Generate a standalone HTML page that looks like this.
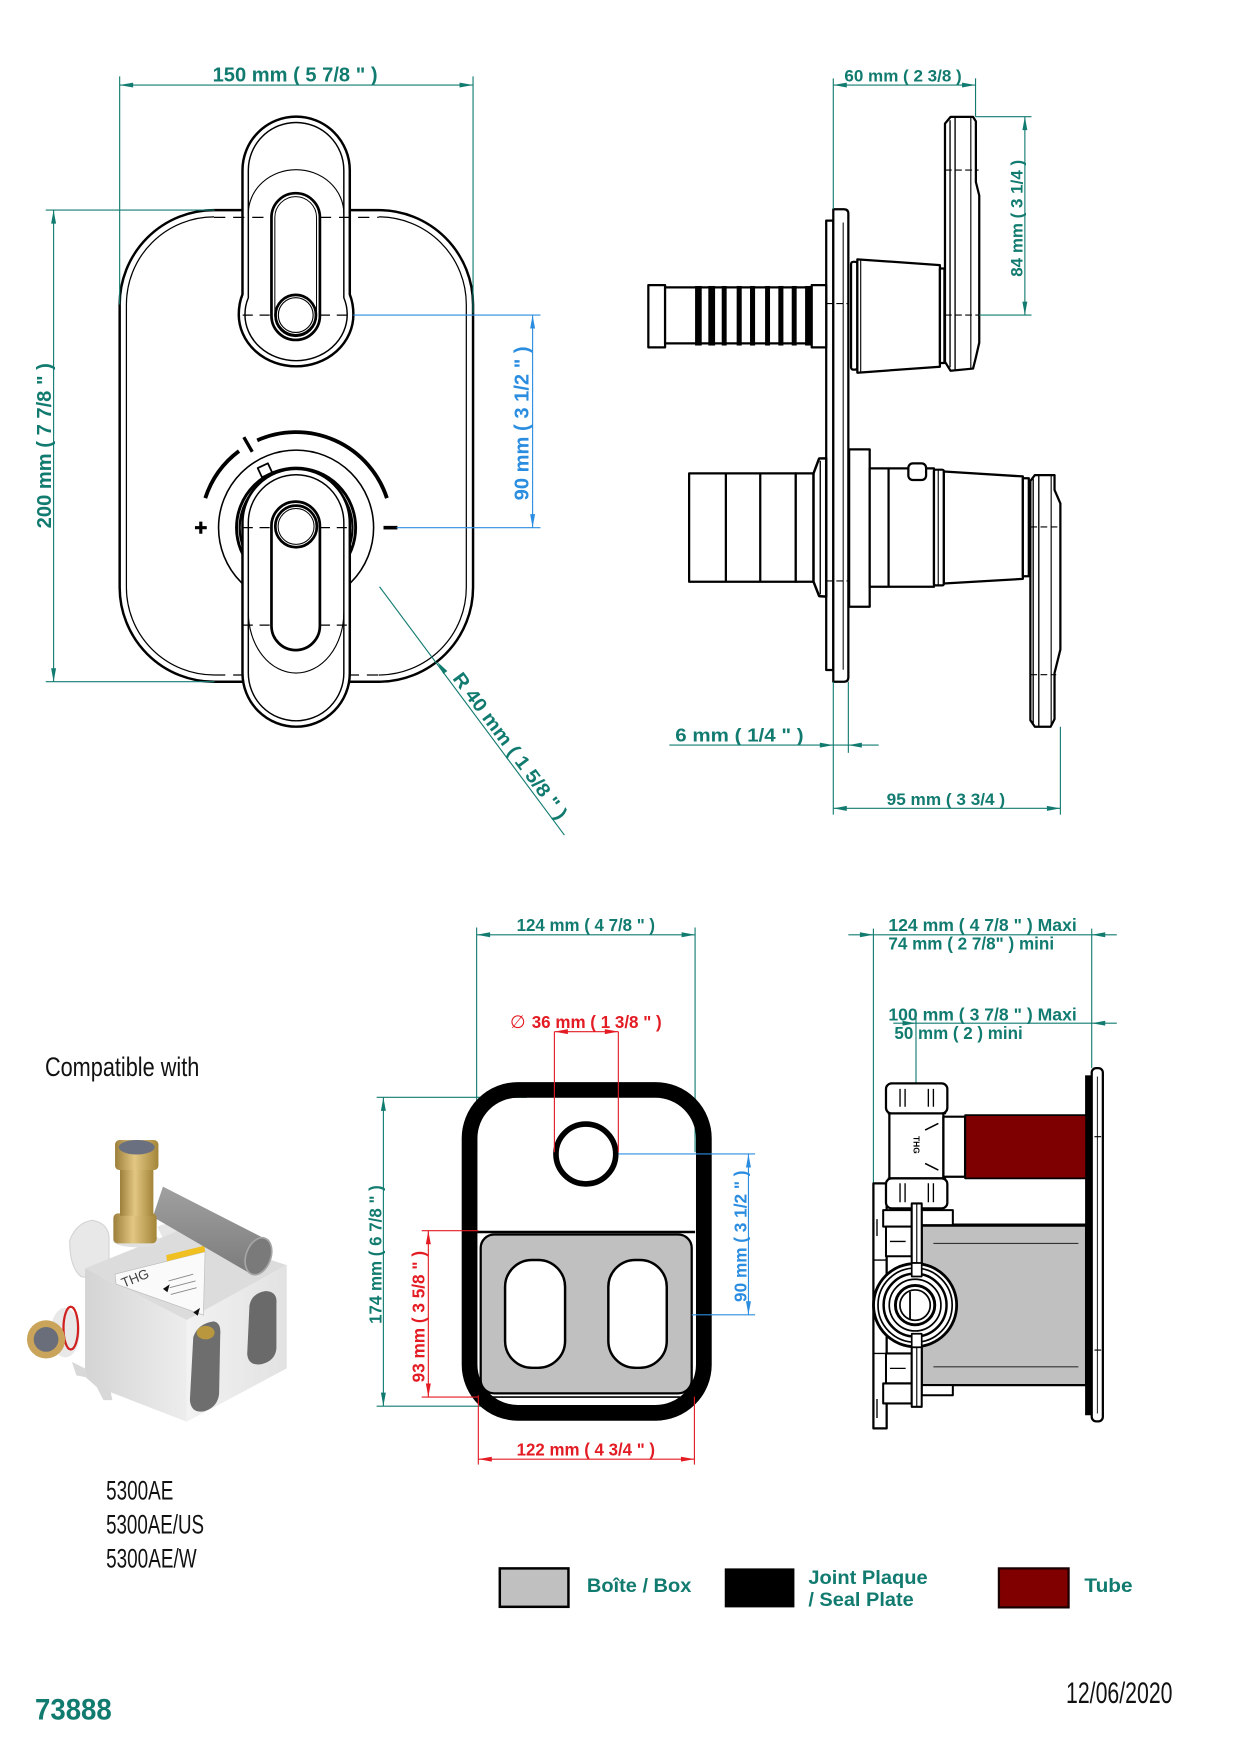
<!DOCTYPE html>
<html><head><meta charset="utf-8"><style>
html,body{margin:0;padding:0;background:#fff;}
body{width:1236px;height:1752px;overflow:hidden;}
svg{display:block;}
.t{font-family:"Liberation Sans",Arial,sans-serif;font-weight:bold;}
.n{font-family:"Liberation Sans Narrow","Liberation Sans",sans-serif;font-weight:normal;fill:#111;}
</style></head><body>
<svg width="1236" height="1752" viewBox="0 0 1100 1559.2" preserveAspectRatio="none" xmlns="http://www.w3.org/2000/svg">
<defs>
<linearGradient id="gL" x1="0" y1="0" x2="1" y2="0"><stop offset="0" stop-color="#d4d4d4"/><stop offset="1" stop-color="#ededed"/></linearGradient>
<linearGradient id="gR" x1="0" y1="0" x2="1" y2="0"><stop offset="0" stop-color="#f2f2f2"/><stop offset="1" stop-color="#e2e2e2"/></linearGradient>
<linearGradient id="gBr" x1="0" y1="0" x2="1" y2="0"><stop offset="0" stop-color="#9c7f3a"/><stop offset="0.45" stop-color="#e2c783"/><stop offset="1" stop-color="#a38538"/></linearGradient>
<linearGradient id="gT" x1="0" y1="0" x2="0" y2="1"><stop offset="0" stop-color="#a0a0a0"/><stop offset="1" stop-color="#7c7c7c"/></linearGradient>
</defs>

<!-- ================= FRONT VIEW ================= -->
<g fill="none" stroke="#000" stroke-linejoin="round">
<path d="M190.5,187 H337 A84,84 0 0 1 421,271 V522.7 A84,84 0 0 1 337,606.7 H190.5 A84,84 0 0 1 106.5,522.7 V271 A84,84 0 0 1 190.5,187 Z" fill="#fff" stroke-width="2.2"/>
<path d="M190.5,193 A78,78 0 0 0 112.5,271 V522.7 A78,78 0 0 0 190.5,600.7" stroke-width="1.1"/>
<path d="M337,193 A78,78 0 0 1 415,271 V522.7 A78,78 0 0 1 337,600.7" stroke-width="1.1"/>
<line x1="190.5" y1="600.7" x2="337" y2="600.7" stroke-width="1.1" stroke-dasharray="10 7"/>

<!-- top lever -->
<path d="M215.8,151.5 A47.75,47.75 0 0 1 311.3,151.5 V262 Q314.5,270 314.5,280 A51,46 0 0 1 212.5,280 Q212.5,270 215.8,262 Z" fill="#fff" stroke-width="2.2"/>
<path d="M221,151.5 A42.5,42.5 0 0 1 306,151.5 V265 Q309,272 309,280 A45.5,41 0 0 1 218,280 Q218,272 221,265 Z" stroke-width="1.3"/>
<path d="M221,190 A42.5,39 0 0 1 306,190" stroke-width="1"/>
<path d="M241.6,193.5 A21.55,21.55 0 0 1 284.7,193.5 V281 A21.55,21.55 0 0 1 241.6,281 Z" stroke-width="2.4"/>
<path d="M244.6,193.5 A18.55,18.55 0 0 1 281.7,193.5 V281 A18.55,18.55 0 0 1 244.6,281 Z" stroke-width="0.9"/>
<circle cx="263.2" cy="280.4" r="18" fill="#fff" stroke-width="2.4"/>
<circle cx="263.2" cy="280.4" r="15.5" stroke-width="1"/>
<path d="M190.5,193.5 H241.6 M284.7,193.5 H337" stroke-width="1.1" stroke-dasharray="10 7"/>
<path d="M216,280.4 H241.6 M284.7,280.4 H311" stroke-width="1.1" stroke-dasharray="9 6"/>

<!-- lower knob -->
<circle cx="263.5" cy="469.6" r="69" fill="#fff" stroke-width="1.4"/>
<path d="M182.7,443.3 A85,85 0 0 1 212.7,401.4" stroke-width="3.4"/>
<path d="M228.9,391.9 A85,85 0 0 1 344.3,443.3" stroke-width="3.4"/>
<line x1="224.5" y1="402.1" x2="217" y2="389.1" stroke-width="3"/>
<rect x="-5" y="-5" width="10" height="9" transform="translate(236,419) rotate(-25)" fill="#fff" stroke-width="1.6"/>
<circle cx="263.5" cy="469.6" r="53" fill="#fff" stroke-width="2.6"/>
<circle cx="263.5" cy="469.6" r="50.2" stroke-width="2"/>
<circle cx="263.5" cy="469.6" r="47.6" stroke-width="1"/>
<line x1="173.5" y1="469.6" x2="184" y2="469.6" stroke-width="2.8"/>
<line x1="178.7" y1="464.2" x2="178.7" y2="475" stroke-width="2.8"/>
<line x1="341.3" y1="469.6" x2="353.7" y2="469.6" stroke-width="3.2"/>

<!-- lower lever -->
<path d="M215.8,465 A47.75,47.75 0 0 1 311.3,465 V599 A47.75,47.75 0 0 1 215.8,599 Z" fill="#fff" stroke-width="2.2"/>
<path d="M221,465 A42.5,42.5 0 0 1 306,465 V599 A42.5,42.5 0 0 1 221,599 Z" stroke-width="1.3"/>
<path d="M221,545 A42.5,54 0 0 0 306,545" stroke-width="1"/>
<path d="M241.6,468 A21.55,21.55 0 0 1 284.7,468 V557 A21.55,21.55 0 0 1 241.6,557 Z" stroke-width="2.4"/>
<circle cx="263.5" cy="468.5" r="18.5" fill="#fff" stroke-width="2.4"/>
<circle cx="263.5" cy="468.5" r="16" stroke-width="0.9"/>
<path d="M216,469.6 H241.6 M284.7,469.6 H311 M216,556.3 H241.6 M284.7,556.3 H311" stroke-width="1.1" stroke-dasharray="9 6"/>
</g>

<!-- front view dimensions -->
<g stroke="#127b70" stroke-width="1" fill="none">
<line x1="106.5" y1="68" x2="106.5" y2="271"/>
<line x1="421" y1="68" x2="421" y2="279"/>
<line x1="106.5" y1="75.7" x2="421" y2="75.7"/>
<line x1="40.7" y1="187" x2="191" y2="187"/>
<line x1="40.7" y1="606.7" x2="191" y2="606.7"/>
<line x1="47.7" y1="187" x2="47.7" y2="606.7"/>
<line x1="337.8" y1="522.2" x2="502.3" y2="743.2"/>
</g>
<g fill="#127b70">
<polygon points="106.5,75.7 118.5,73.5 118.5,77.9"/>
<polygon points="421,75.7 409,73.5 409,77.9"/>
<polygon points="47.7,187 45.5,199 49.9,199"/>
<polygon points="47.7,606.7 45.5,594.7 49.9,594.7"/>
<polygon points="389.1,588.9 394.5,599.8 398.1,597.2"/>
</g>
<g stroke="#2b8de0" stroke-width="1" fill="none">
<line x1="314.5" y1="280.4" x2="481" y2="280.4"/>
<line x1="353" y1="469.6" x2="481" y2="469.6"/>
<line x1="474" y1="280.4" x2="474" y2="469.6"/>
</g>
<g fill="#2b8de0">
<polygon points="474,280.4 471.8,292.4 476.2,292.4"/>
<polygon points="474,469.6 471.8,457.6 476.2,457.6"/>
</g>
<text class="t" x="189.2" y="72.7" font-size="18.5" fill="#127b70" textLength="146.8" lengthAdjust="spacingAndGlyphs">150 mm ( 5 7/8 &quot; )</text>
<text class="t" transform="translate(45.5,396.7) rotate(-90)" text-anchor="middle" font-size="18.5" fill="#127b70" textLength="147" lengthAdjust="spacingAndGlyphs">200 mm ( 7 7/8 &quot; )</text>
<text class="t" transform="translate(470.3,376.8) rotate(-90)" text-anchor="middle" font-size="18.5" fill="#2b8de0" textLength="137" lengthAdjust="spacingAndGlyphs">90 mm ( 3 1/2 &quot; )</text>
<text class="t" transform="translate(402.3,603.8) rotate(53.33)" font-size="17" fill="#127b70" textLength="158" lengthAdjust="spacingAndGlyphs">R 40 mm ( 1 5/8 &quot; )</text>

<!-- ================= SIDE VIEW (TOP RIGHT) ================= -->
<g fill="#fff" stroke="#000" stroke-width="2" stroke-linejoin="round">
<rect x="735.3" y="196.3" width="6.3" height="400" />
<path d="M741.6,186.2 H751 Q755,186.2 755,190.2 V602.7 Q755,606.7 751,606.7 H741.6 Z"/>
<line x1="750.4" y1="198" x2="750.4" y2="596" stroke-width="0.9"/>
<path d="M735.3,270.2 H755 M735.3,517 H755" stroke-width="1" stroke-dasharray="6 3"/>
<rect x="577" y="253.7" width="14.9" height="55.4"/>
<rect x="591.9" y="255.7" width="130.5" height="49.9"/>
<rect x="722.4" y="253.7" width="12.9" height="55.4"/>
</g>
<g fill="#000">
<rect x="618.6" y="254.5" width="5.9" height="53"/>
<rect x="630.4" y="254.5" width="6" height="53"/>
<rect x="642.3" y="254.5" width="4.4" height="53"/>
<rect x="655.6" y="254.5" width="4.5" height="53"/>
<rect x="667.5" y="254.5" width="4.5" height="53"/>
<rect x="680.9" y="254.5" width="4.4" height="53"/>
<rect x="692.7" y="254.5" width="4.5" height="53"/>
<rect x="704.6" y="254.5" width="4.4" height="53"/>
<rect x="716.5" y="254.5" width="5.9" height="53"/>
</g>
<g fill="#fff" stroke="#000" stroke-width="2" stroke-linejoin="round">
<rect x="757.4" y="233" width="5.6" height="96" rx="2"/>
<polygon points="763,230.8 836.5,235.9 836.5,326.4 763,331.7"/>
<line x1="766" y1="231.5" x2="766" y2="331" stroke-width="1"/>
<rect x="836.5" y="239" width="4" height="84"/>
<polygon points="841,110 846,104 866,104 868.5,108 868.5,162 871.5,174 871.5,305 868.5,318 866,328 846,330 841,322"/>
<line x1="845.5" y1="107" x2="845.5" y2="327" stroke-width="1.2"/>
<line x1="850" y1="104" x2="850" y2="330" stroke-width="1.2"/>
<line x1="864" y1="104" x2="864" y2="329" stroke-width="1"/>
<path d="M841,151.3 H871 M841,280.4 H871" stroke-width="1" stroke-dasharray="6 3"/>

<rect x="613.3" y="421.3" width="94.9" height="96.4"/>
<line x1="646" y1="421.3" x2="646" y2="517.7"/>
<line x1="676.6" y1="421.3" x2="676.6" y2="517.7"/>
<rect x="708.2" y="421.3" width="15.8" height="96.4"/>
<polygon points="724,421.3 729,408 735.3,407.9 735.3,531 729,530.5 724,517.7" stroke-width="2.2"/>
<line x1="730" y1="410" x2="730" y2="529" stroke-width="1.2"/>
<rect x="755.7" y="399.9" width="18.3" height="140.1"/>
<rect x="774" y="416.8" width="57.2" height="105.4"/>
<line x1="790.8" y1="416.8" x2="790.8" y2="522.2"/>
<rect x="808.4" y="412.4" width="15.8" height="14.8" rx="4"/>
<rect x="831.2" y="418" width="8.8" height="103" rx="1.5"/>
<line x1="835" y1="418" x2="835" y2="521" stroke-width="1"/>
<polygon points="840,419.6 910.3,424 910.3,515.2 840,519.3"/>
<rect x="910.3" y="425.6" width="5.3" height="87.2"/>
<polygon points="917,428 921,422.8 938.5,422.8 938.5,436 943.7,448 943.7,578 938.5,599 938.5,640 935,646.8 921,646.8 917,641"/>
<line x1="919.5" y1="426" x2="919.5" y2="644" stroke-width="1.2"/>
<line x1="924.5" y1="423" x2="924.5" y2="646.5" stroke-width="1.2"/>
<line x1="935.5" y1="423" x2="935.5" y2="646.5" stroke-width="1"/>
<path d="M917,469 H943.7 M917,600.4 H940" stroke-width="1" stroke-dasharray="6 3"/>
</g>
<g stroke="#127b70" stroke-width="1" fill="none">
<line x1="741.6" y1="69.7" x2="741.6" y2="186.2"/>
<line x1="868.2" y1="69.7" x2="868.2" y2="103.8"/>
<line x1="741.6" y1="75.7" x2="868.2" y2="75.7"/>
<line x1="868.2" y1="103.8" x2="918" y2="103.8"/>
<line x1="871.5" y1="280.4" x2="918" y2="280.4"/>
<line x1="912.1" y1="103.8" x2="912.1" y2="280.4"/>
<line x1="595.7" y1="663.1" x2="782" y2="663.1"/>
<line x1="741.6" y1="606.7" x2="741.6" y2="725"/>
<line x1="755" y1="606.7" x2="755" y2="670"/>
<line x1="943.7" y1="646.8" x2="943.7" y2="725"/>
<line x1="741.6" y1="719.4" x2="943.7" y2="719.4"/>
</g>
<g fill="#127b70">
<polygon points="741.6,75.7 753.6,73.5 753.6,77.9"/>
<polygon points="868.2,75.7 856.2,73.5 856.2,77.9"/>
<polygon points="912.1,103.8 909.9,115.8 914.3,115.8"/>
<polygon points="912.1,280.4 909.9,268.4 914.3,268.4"/>
<polygon points="741.6,663.1 729.6,660.9 729.6,665.3"/>
<polygon points="755,663.1 767,660.9 767,665.3"/>
<polygon points="741.6,719.4 753.6,717.2 753.6,721.6"/>
<polygon points="943.7,719.4 931.7,717.2 931.7,721.6"/>
</g>
<text class="t" x="751.5" y="72.7" font-size="14.5" fill="#127b70" textLength="104.4" lengthAdjust="spacingAndGlyphs">60 mm ( 2 3/8 )</text>
<text class="t" transform="translate(910,194.3) rotate(-90)" text-anchor="middle" font-size="14.5" fill="#127b70" textLength="104" lengthAdjust="spacingAndGlyphs">84 mm ( 3 1/4 )</text>
<text class="t" x="601" y="660.1" font-size="16.5" fill="#127b70" textLength="114.2" lengthAdjust="spacingAndGlyphs">6 mm ( 1/4 &quot; )</text>
<text class="t" x="789.1" y="716.5" font-size="14.5" fill="#127b70" textLength="105.4" lengthAdjust="spacingAndGlyphs">95 mm ( 3 3/4 )</text>

<!-- ================= SEAL PLATE VIEW ================= -->
<g stroke="#127b70" stroke-width="1" fill="none">
<line x1="424.2" y1="825.4" x2="424.2" y2="1025.4"/>
<line x1="618.6" y1="825.4" x2="618.6" y2="1025.4"/>
<line x1="424.2" y1="831.9" x2="618.6" y2="831.9"/>
<line x1="335.2" y1="976.6" x2="468.8" y2="976.6"/>
<line x1="335.2" y1="1251.4" x2="468.8" y2="1251.4"/>
<line x1="341.2" y1="976.6" x2="341.2" y2="1251.4"/>
</g>
<rect x="417.9" y="970" width="208.5" height="287.4" rx="43" fill="none" stroke="#000" stroke-width="14"/>
<line x1="424.8" y1="1096.4" x2="618.6" y2="1096.4" stroke="#000" stroke-width="2.2"/>
<rect x="427.8" y="1098.6" width="187.8" height="141.4" rx="12" fill="#c0c0c0" stroke="#000" stroke-width="2"/>
<line x1="437.6" y1="1243.3" x2="605.2" y2="1243.3" stroke="#000" stroke-width="1.5"/>
<rect x="449.5" y="1121.3" width="53.4" height="96" rx="24" fill="#fff" stroke="#000" stroke-width="2.2"/>
<rect x="541.4" y="1121.3" width="52" height="96" rx="24" fill="#fff" stroke="#000" stroke-width="2.2"/>
<circle cx="521.4" cy="1027" r="26.6" fill="#fff" stroke="#000" stroke-width="5"/>
<g fill="#127b70">
<polygon points="424.2,831.9 436.2,829.7 436.2,834.1"/>
<polygon points="618.6,831.9 606.6,829.7 606.6,834.1"/>
<polygon points="341.2,976.6 339,988.6 343.4,988.6"/>
<polygon points="341.2,1251.4 339,1239.4 343.4,1239.4"/>
</g>
<g stroke="#e31b23" stroke-width="1" fill="none">
<line x1="493.4" y1="918.1" x2="550.3" y2="918.1"/>
<line x1="493.4" y1="918.1" x2="493.4" y2="1025.4"/>
<line x1="550.3" y1="918.1" x2="550.3" y2="1025.4"/>
<line x1="375.3" y1="1095.3" x2="425.7" y2="1095.3"/>
<line x1="375.3" y1="1243.3" x2="425.7" y2="1243.3"/>
<line x1="381.2" y1="1095.3" x2="381.2" y2="1243.3"/>
<line x1="425.7" y1="1241.7" x2="425.7" y2="1303.4"/>
<line x1="618" y1="1243" x2="618" y2="1303.4"/>
<line x1="425.7" y1="1298.6" x2="618" y2="1298.6"/>
</g>
<g fill="#e31b23">
<polygon points="493.4,918.1 505.4,915.9 505.4,920.3"/>
<polygon points="550.3,918.1 538.3,915.9 538.3,920.3"/>
<polygon points="381.2,1095.3 379,1107.3 383.4,1107.3"/>
<polygon points="381.2,1243.3 379,1231.3 383.4,1231.3"/>
<polygon points="425.7,1298.6 437.7,1296.4 437.7,1300.8"/>
<polygon points="618,1298.6 606,1296.4 606,1300.8"/>
</g>
<g stroke="#2b8de0" stroke-width="1" fill="none">
<line x1="550.3" y1="1027" x2="672" y2="1027"/>
<line x1="615.6" y1="1170.1" x2="672" y2="1170.1"/>
<line x1="666.1" y1="1027" x2="666.1" y2="1170.1"/>
</g>
<g fill="#2b8de0">
<polygon points="666.1,1027 663.9,1039 668.3,1039"/>
<polygon points="666.1,1170.1 663.9,1158.1 668.3,1158.1"/>
</g>
<text class="t" x="459.8" y="828.6" font-size="15.5" fill="#127b70" textLength="123.2" lengthAdjust="spacingAndGlyphs">124 mm ( 4 7/8 &quot; )</text>
<text x="453.9" y="914.8" font-size="16" fill="#e31b23" font-family="'DejaVu Sans','Liberation Sans',sans-serif">∅</text>
<text class="t" x="473.2" y="914.8" font-size="15.5" fill="#e31b23" textLength="115.7" lengthAdjust="spacingAndGlyphs">36 mm ( 1 3/8 &quot; )</text>
<text class="t" transform="translate(339.5,1116.5) rotate(-90)" text-anchor="middle" font-size="15.5" fill="#127b70" textLength="123.5" lengthAdjust="spacingAndGlyphs">174 mm ( 6 7/8 &quot; )</text>
<text class="t" transform="translate(378,1171.8) rotate(-90)" text-anchor="middle" font-size="15.5" fill="#e31b23" textLength="117" lengthAdjust="spacingAndGlyphs">93 mm ( 3 5/8 &quot; )</text>
<text class="t" transform="translate(664.3,1100.2) rotate(-90)" text-anchor="middle" font-size="15.5" fill="#2b8de0" textLength="117" lengthAdjust="spacingAndGlyphs">90 mm ( 3 1/2 &quot; )</text>
<text class="t" x="459.8" y="1295.3" font-size="15.5" fill="#e31b23" textLength="123.2" lengthAdjust="spacingAndGlyphs">122 mm ( 4 3/4 &quot; )</text>

<!-- ================= BOX SIDE VIEW ================= -->
<g stroke="#127b70" stroke-width="1" fill="none">
<line x1="777.3" y1="826.4" x2="777.3" y2="1053"/>
<line x1="971.6" y1="826.4" x2="971.6" y2="950.6"/>
<line x1="815.2" y1="905" x2="815.2" y2="964.2"/>
<line x1="755" y1="831.9" x2="993.9" y2="831.9"/>
<line x1="795" y1="910.6" x2="993.9" y2="910.6"/>
</g>
<g fill="#127b70">
<polygon points="777.3,831.9 765.3,829.7 765.3,834.1"/>
<polygon points="971.6,831.9 983.6,829.7 983.6,834.1"/>
<polygon points="815.2,910.6 803.2,908.4 803.2,912.8"/>
<polygon points="971.6,910.6 983.6,908.4 983.6,912.8"/>
</g>
<text class="t" x="790.6" y="828.6" font-size="15.5" fill="#127b70" textLength="167.7" lengthAdjust="spacingAndGlyphs">124 mm ( 4 7/8 &quot; )  Maxi</text>
<text class="t" x="790.6" y="844.9" font-size="15.5" fill="#127b70" textLength="147.5" lengthAdjust="spacingAndGlyphs">74 mm ( 2 7/8&quot; ) mini</text>
<text class="t" x="790.6" y="908.3" font-size="15.5" fill="#127b70" textLength="167.7" lengthAdjust="spacingAndGlyphs">100 mm ( 3 7/8 &quot; )  Maxi</text>
<text class="t" x="796" y="924.6" font-size="15.5" fill="#127b70" textLength="114.2" lengthAdjust="spacingAndGlyphs">50 mm ( 2 ) mini</text>

<g stroke="#000" stroke-linejoin="round">
<rect x="971.6" y="950.6" width="9.9" height="314.4" rx="4" fill="#fff" stroke-width="2"/>
<line x1="976.6" y1="958" x2="976.6" y2="1258" stroke-width="0.8"/>
<path d="M974,1011.6 H980 M974,1201.5 H980" stroke-width="1"/>
<rect x="965.7" y="957" width="6" height="302.5" fill="#000" stroke="none"/>
<rect x="858.9" y="992.4" width="107.7" height="56.3" fill="#7f0000" stroke-width="1.5"/>
<rect x="820.3" y="1090.3" width="146.3" height="142.4" fill="#c0c0c0" stroke-width="2"/>
<line x1="820.3" y1="1090.3" x2="966.6" y2="1090.3" stroke-width="2.8"/>
<line x1="830.7" y1="1106.6" x2="959.7" y2="1106.6" stroke="#333" stroke-width="1.1"/>
<line x1="830.7" y1="1216.4" x2="959.7" y2="1216.4" stroke="#333" stroke-width="1.1"/>
<rect x="777.3" y="1053.2" width="11.8" height="218" fill="#fff" stroke-width="2"/>
<path d="M777.3,1121.4 H789.1 M777.3,1204.5 H789.1 M780.5,1085 V1100 M780.5,1245 V1262" stroke-width="1.2" fill="none"/>
<rect x="786" y="1077" width="25.4" height="14.6" fill="#fff" stroke-width="1.8"/>
<rect x="788.5" y="1091.6" width="22.9" height="26.4" fill="#fff" stroke-width="1.8"/>
<line x1="792" y1="1104.8" x2="806" y2="1104.8" stroke-width="1.2"/>
<rect x="788.5" y="1204.5" width="22.9" height="26.7" fill="#fff" stroke-width="1.8"/>
<line x1="792" y1="1217.8" x2="806" y2="1217.8" stroke-width="1.2"/>
<rect x="786" y="1231.2" width="25.4" height="17.8" fill="#fff" stroke-width="1.8"/>
<rect x="820.3" y="1077" width="27.7" height="13.3" fill="#fff" stroke-width="1.8"/>
<rect x="820.3" y="1232.7" width="27.7" height="9" fill="#fff" stroke-width="1.8"/>
<rect x="791.5" y="990.9" width="48.1" height="57.8" fill="#fff" stroke-width="2"/>
<rect x="839.6" y="993.8" width="19.3" height="53.5" fill="#fff" stroke-width="2"/>
<rect x="788.5" y="964.2" width="54.6" height="26.7" rx="5" fill="#fff" stroke-width="2"/>
<rect x="788.5" y="1048.7" width="54.6" height="26.7" rx="5" fill="#fff" stroke-width="2"/>
<path d="M801,969 V985 M805.5,969 V985 M826.2,969 V985 M830.7,969 V985 M801,1053 V1070 M805.5,1053 V1070 M826.2,1053 V1070 M830.7,1053 V1070" stroke-width="1.2" fill="none"/>
<path d="M790,990.9 H842 M790,1048.7 H842" stroke-width="1.4" stroke-dasharray="5 3" fill="none"/>
<path d="M823.3,1005.7 L835.1,999.8 M823.3,1035.4 L835.1,1041.3" stroke-width="1.4" fill="none"/>
<rect x="811.4" y="1071" width="8.9" height="181" fill="#fff" stroke-width="1.8"/>
<line x1="815.9" y1="1071" x2="815.9" y2="1252" stroke-width="1"/>
<circle cx="814.4" cy="1161.5" r="37" fill="#fff" stroke-width="2.5"/>
<circle cx="814.4" cy="1161.5" r="33" fill="none" stroke-width="1.5"/>
<circle cx="814.4" cy="1161.5" r="28" fill="none" stroke-width="2.2"/>
<circle cx="814.4" cy="1161.5" r="23" fill="none" stroke-width="1.5"/>
<circle cx="814.4" cy="1161.5" r="17.5" fill="none" stroke-width="2.6"/>
<circle cx="814.4" cy="1161.5" r="13.5" fill="none" stroke-width="1.5"/>
<line x1="809.9" y1="1149.6" x2="809.9" y2="1174.8" stroke-width="1.6"/>
<rect x="811.4" y="1124" width="8.9" height="12" fill="#fff" stroke-width="1.5"/>
<rect x="811.4" y="1187" width="8.9" height="12" fill="#fff" stroke-width="1.5"/>
</g>
<text class="t" transform="translate(813,1011) rotate(90)" font-size="7.5" fill="#000">THG</text>

<!-- ================= LEGEND ================= -->
<rect x="444.8" y="1395.8" width="61.1" height="34.2" fill="#c0c0c0" stroke="#000" stroke-width="2.2"/>
<text class="t" x="522.3" y="1416.6" font-size="17.5" fill="#127b70" textLength="93" lengthAdjust="spacingAndGlyphs">Boîte / Box</text>
<rect x="645" y="1395.8" width="62" height="34.7" fill="#000"/>
<text class="t" x="719.4" y="1409.8" font-size="17.5" fill="#127b70" textLength="106.2" lengthAdjust="spacingAndGlyphs">Joint Plaque</text>
<text class="t" x="719.4" y="1429.3" font-size="17.5" fill="#127b70" textLength="93.8" lengthAdjust="spacingAndGlyphs">/ Seal Plate</text>
<rect x="889" y="1395.8" width="62" height="34.7" fill="#800000" stroke="#1a0000" stroke-width="2"/>
<text class="t" x="965.1" y="1416.6" font-size="17.5" fill="#127b70" textLength="42.9" lengthAdjust="spacingAndGlyphs">Tube</text>

<text class="n" x="948.7" y="1515.4" font-size="26" textLength="94.8" lengthAdjust="spacingAndGlyphs">12/06/2020</text>
<text class="t" x="31.2" y="1530.2" font-size="26" fill="#127b70" textLength="68.2" lengthAdjust="spacingAndGlyphs">73888</text>

<!-- ================= COMPATIBLE WITH ================= -->
<text class="n" x="40" y="957.5" font-size="24" textLength="137.4" lengthAdjust="spacingAndGlyphs">Compatible with</text>
<text class="n" x="94.4" y="1334.6" font-size="24" textLength="59.9" lengthAdjust="spacingAndGlyphs">5300AE</text>
<text class="n" x="94.4" y="1364.9" font-size="24" textLength="87.2" lengthAdjust="spacingAndGlyphs">5300AE/US</text>
<text class="n" x="94.4" y="1395.2" font-size="24" textLength="80.6" lengthAdjust="spacingAndGlyphs">5300AE/W</text>

<g>
<path d="M62,1104 Q68,1088 82,1086 Q95,1088 97,1100 L97,1126 Q86,1140 72,1136 Q62,1128 62,1104 Z" fill="#e8e8e8" stroke="#d4d4d4" stroke-width="1"/>
<path d="M140,1092 Q150,1086 158,1094 L158,1104 L146,1104 Z" fill="#e6e6e6"/>
<polygon points="75.7,1128.8 160.2,1094.7 255.2,1125.9 166.2,1174.8" fill="#dcdcdc"/>
<polygon points="75.7,1128.8 166.2,1174.8 166.2,1265.3 86,1234.2 75.7,1225.3" fill="url(#gL)"/>
<polygon points="166.2,1174.8 255.2,1125.9 255.2,1217.8 166.2,1265.3" fill="url(#gR)"/>
<path d="M86,1234.2 L92,1246 L100,1246 L98,1236 Z" fill="#d8d8d8"/>
<path d="M172,1190 Q176,1178 190,1176 Q197,1177 196,1188 L195,1240 Q194,1252 182,1256 Q170,1258 169,1246 Z" fill="#6e6e6e"/>
<ellipse cx="183" cy="1186" rx="8" ry="6" fill="#b8973e"/>
<path d="M222,1162 Q224,1151 236,1149 Q247,1149 246,1160 L246,1200 Q245,1211 233,1214 Q221,1216 220,1205 Z" fill="#6a6a6a"/>
<polygon points="102.4,1133.9 182.5,1114 181,1170.4 103.3,1142.8" fill="#fafafa" stroke="#bdbdbd" stroke-width="0.6"/>
<polygon points="148,1117 182,1108.5 182.5,1114 148.5,1122.5" fill="#f0c020"/>
<text transform="translate(110,1146) rotate(-22)" font-family="'Liberation Sans',sans-serif" font-size="12" fill="#444">THG</text>
<polygon points="145,1147 151,1143 149,1150" fill="#111"/>
<polygon points="172,1168 178,1164 176,1171" fill="#111"/>
<path d="M150,1140 L172,1134 M151,1146 L174,1140 M152,1152 L175,1146" stroke="#888" stroke-width="0.8"/>
<polygon points="145,1056 237,1103 222,1133 136,1083" fill="url(#gT)"/>
<ellipse cx="230" cy="1118" rx="11" ry="17" transform="rotate(20 230 1118)" fill="#7a7a7a" stroke="#a5a5a5" stroke-width="1.5"/>
<ellipse cx="121.6" cy="1104" rx="21" ry="6" fill="#e0e0e0"/>
<rect x="100.9" y="1079.9" width="38.5" height="26.7" rx="4" fill="url(#gBr)"/>
<rect x="106.8" y="1041" width="29.7" height="41" fill="url(#gBr)"/>
<rect x="102.4" y="1014.6" width="38.6" height="26.7" rx="4" fill="url(#gBr)"/>
<ellipse cx="121.7" cy="1021" rx="16" ry="6.5" fill="#6a7080"/>
<ellipse cx="58" cy="1186" rx="13" ry="22" fill="#e8e8e8"/>
<ellipse cx="63" cy="1182" rx="6.5" ry="19" fill="none" stroke="#d02020" stroke-width="2"/>
<circle cx="41" cy="1192" r="17" fill="#c9a45a"/>
<circle cx="41" cy="1192" r="11" fill="#6a6e7a"/>
<path d="M64,1212 L76,1218 L78,1226 L68,1224 Z" fill="#d8d8d8"/>
</g>
</svg>
</body></html>
